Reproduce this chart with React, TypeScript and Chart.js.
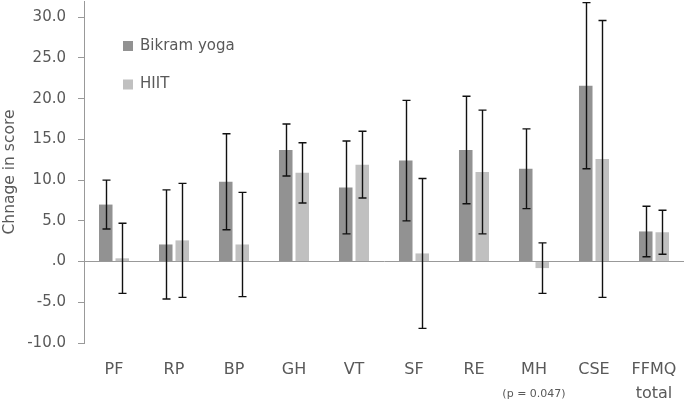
import React, { useEffect, useRef } from "react";
import { Chart, registerables } from "chart.js";

Chart.register(...registerables);

const categories = ["PF", "RP", "BP", "GH", "VT", "SF", "RE", "MH", "CSE", "FFMQ"];
const subLabels = ["", "", "", "", "", "", "", "(p = 0.047)", "", "total"];
const seriesNames = ["Bikram yoga", "HIIT"];
const yogaValues = [7.0, 2.1, 9.8, 13.7, 9.1, 12.4, 13.7, 11.4, 21.6, 3.7];
const yogaErrors = [3.0, 6.7, 5.9, 3.2, 5.7, 7.4, 6.6, 4.9, 10.2, 3.1];
const hiitValues = [0.4, 2.6, 2.1, 10.9, 11.9, 1.0, 11.0, -0.8, 12.6, 3.6];
const hiitErrors = [4.3, 7.0, 6.4, 3.7, 4.1, 9.2, 7.6, 3.1, 17.0, 2.7];
const yMin = -10;
const yMax = 32;
const yStep = 5;

const FONT = "'DejaVu Sans', sans-serif";
const TEXT = "#595959";
const AXIS = "#999999";
const COLORS = ["#929292", "#c0c0c0"];
const errors = [yogaErrors, hiitErrors];

const errorBarPlugin = {
  id: "errorBars",
  afterDatasetsDraw(chart: any) {
    const ctx = chart.ctx;
    const ys = chart.scales.y;
    ctx.save();
    ctx.strokeStyle = "#111111";
    ctx.lineWidth = 1.4;
    chart.data.datasets.forEach((ds: any, di: number) => {
      const meta = chart.getDatasetMeta(di);
      meta.data.forEach((bar: any, i: number) => {
        const v = ds.data[i];
        const e = errors[di][i];
        const x = Math.round(bar.x) + 0.5;
        const yt = ys.getPixelForValue(v + e);
        const yb = ys.getPixelForValue(v - e);
        ctx.beginPath();
        ctx.moveTo(x, yt);
        ctx.lineTo(x, yb);
        ctx.moveTo(x - 4, yt);
        ctx.lineTo(x + 4, yt);
        ctx.moveTo(x - 4, yb);
        ctx.lineTo(x + 4, yb);
        ctx.stroke();
      });
    });
    ctx.restore();
  },
};

const legendPlugin = {
  id: "insideLegend",
  afterDraw(chart: any) {
    const ctx = chart.ctx;
    const area = chart.chartArea;
    ctx.save();
    ctx.font = `15px ${FONT}`;
    ctx.textBaseline = "middle";
    ctx.textAlign = "left";
    chart.data.datasets.forEach((ds: any, i: number) => {
      const cy = area.top + 45 + i * 38.5;
      const x = area.left + 39;
      ctx.fillStyle = ds.backgroundColor;
      ctx.fillRect(x, cy - 5, 10, 10);
      ctx.fillStyle = TEXT;
      ctx.fillText(ds.label, x + 17, cy);
    });
    ctx.restore();
  },
};

const subLabelPlugin = {
  id: "subLabels",
  afterDraw(chart: any) {
    const ctx = chart.ctx;
    const xs = chart.scales.x;
    ctx.save();
    ctx.fillStyle = TEXT;
    ctx.textAlign = "center";
    ctx.textBaseline = "middle";
    subLabels.forEach((t, i) => {
      if (!t) return;
      const small = t.startsWith("(");
      ctx.font = `${small ? 11 : 16}px ${FONT}`;
      ctx.fillText(t, xs.getPixelForValue(i), chart.chartArea.bottom + 51);
    });
    ctx.restore();
  },
};

export default function App() {
  const ref = useRef<HTMLCanvasElement>(null);
  useEffect(() => {
    document.body.style.margin = "0";
    const chart = new Chart(ref.current as HTMLCanvasElement, {
      type: "bar",
      data: {
        labels: categories,
        datasets: [
          { label: seriesNames[0], data: yogaValues, backgroundColor: COLORS[0], borderWidth: 0 },
          { label: seriesNames[1], data: hiitValues, backgroundColor: COLORS[1], borderWidth: 0 },
        ],
      },
      options: {
        animation: false,
        responsive: false,
        layout: { padding: { top: 1, right: 1, left: 0, bottom: 0 } },
        datasets: { bar: { categoryPercentage: 0.55, barPercentage: 0.82 } },
        plugins: { legend: { display: false }, tooltip: { enabled: false } },
        scales: {
          x: {
            grid: { display: false },
            border: { display: false },
            ticks: {
              color: TEXT,
              font: { family: FONT, size: 16 },
              padding: 9,
              maxRotation: 0,
              autoSkip: false,
            },
            afterFit: (s: any) => {
              s.height = 57;
              s.paddingLeft = 0;
              s.paddingRight = 0;
            },
          },
          y: {
            min: yMin,
            max: yMax,
            border: { display: true, color: AXIS, width: 1 },
            grid: {
              color: (c: any) => (c.tick && c.tick.value === 0 ? AXIS : "rgba(0,0,0,0)"),
              tickColor: AXIS,
              tickLength: 6,
              drawTicks: true,
            },
            ticks: {
              stepSize: yStep,
              includeBounds: false,
              color: TEXT,
              font: { family: FONT, size: 15 },
              padding: 12,
              callback: (v: any) => {
                const s = Number(v).toFixed(1);
                return s === "0.0" ? ".0" : s;
              },
            },
            title: {
              display: true,
              text: "Chnage in score",
              color: TEXT,
              font: { family: FONT, size: 15.5 },
              padding: { top: 1, bottom: 0 },
            },
            afterFit: (s: any) => {
              s.width = 84;
              s.paddingTop = 0;
              s.paddingBottom = 0;
            },
          },
        },
      },
      plugins: [errorBarPlugin, legendPlugin, subLabelPlugin],
    });
    return () => chart.destroy();
  }, []);
  return (
    <div style={{ width: 685, height: 400 }}>
      <canvas ref={ref} width={685} height={400} />
    </div>
  );
}
